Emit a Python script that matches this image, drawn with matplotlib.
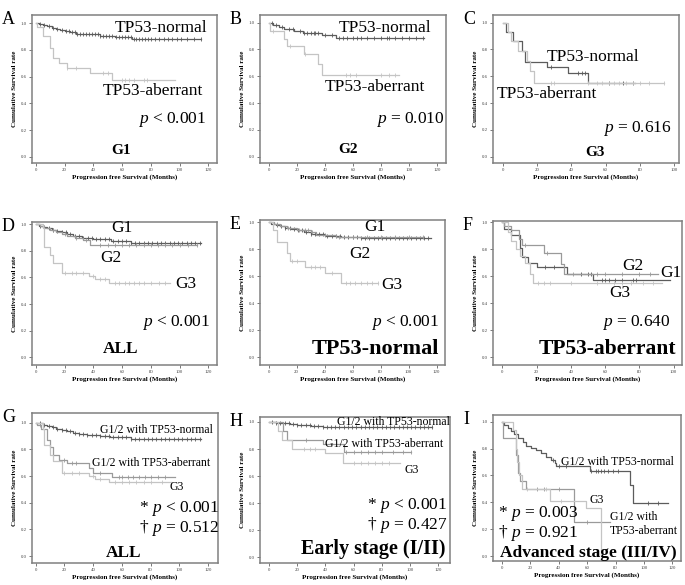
import numpy as np
import matplotlib
matplotlib.use("Agg")
import matplotlib.pyplot as plt

plt.rcParams['font.family'] = ['Liberation Serif', 'DejaVu Serif']
plt.rcParams['mathtext.fontset'] = 'custom'
plt.rcParams['mathtext.rm'] = 'Liberation Serif'
plt.rcParams['mathtext.it'] = 'Liberation Serif:italic'

W, H = 685, 585
DARK, MID, LIGHT = '#5c5c5c', '#9a9a9a', '#c4c4c4'

# ---- Kaplan-Meier curves: step times, survival, last follow-up, censor times
# A: G1
a_norm_t = [0, 2, 5, 8, 11, 14, 17, 20, 24, 28, 35, 45, 55, 67]
a_norm_s = [1, .995, .985, .975, .965, .955, .945, .94, .93, .92, .915, .905, .895, .88]
a_norm_end = 115
a_norm_c = [3, 6, 9, 12, 15, 18, 21, 23, 25, 27, 29, 31, 33, 35, 37, 39, 41, 43, 45, 47, 49, 51, 53, 56, 58,
            60, 62, 64, 66, 68, 70, 72, 74, 76, 78, 80, 83, 86, 89, 92, 95, 98, 101, 105, 110, 115]
a_ab_t = [0, 1, 5, 10, 12, 16, 22, 38, 53]
a_ab_s = [1, .97, .90, .81, .74, .70, .667, .625, .575]
a_ab_end = 97
a_ab_c = [22, 28, 47, 50, 60, 62, 65, 68, 75, 77]

# B: G2
b_norm_t = [0, 3, 7, 11, 18, 24, 38, 48]
b_norm_s = [1, .985, .97, .955, .94, .925, .91, .888]
b_norm_end = 111
b_norm_c = [2, 5, 9, 14, 17, 22, 25, 27, 30, 32, 33, 35, 40, 45, 50, 53, 56, 60, 63, 66, 70, 75, 80,
            84, 86, 90, 95, 100, 105, 110]
b_ab_t = [0, 1, 11, 13, 25, 35, 38]
b_ab_s = [1, .94, .88, .825, .765, .69, .61]
b_ab_end = 93
b_ab_c = [3, 15, 26, 55, 58, 62, 80, 86, 90]

# C: G3
c_norm_t = [0, 2, 6, 11, 13, 26, 38, 50]
c_norm_s = [1, .93, .86, .79, .71, .67, .625, .55]
c_norm_end = 77
c_norm_c = [28, 44, 46, 48, 62, 70, 76]
c_ab_t = [0, 3, 5, 9, 14, 16, 18]
c_ab_s = [1, .93, .865, .785, .715, .64, .55]
c_ab_end = 94
c_ab_c = [28, 30, 50, 55, 58, 62, 65, 68, 72, 76, 80, 85, 94]

# D: ALL by grade
d_g1_t = [0, 2, 5, 8, 11, 14, 18, 22, 26, 32, 40, 52, 66]
d_g1_s = [1, .99, .98, .97, .96, .95, .94, .93, .915, .90, .89, .875, .86]
d_g1_end = 115
d_g1_c = list(range(3, 116, 3))
d_g2_t = [0, 3, 6, 10, 14, 18, 22, 27, 33, 38]
d_g2_s = [1, .985, .97, .955, .94, .925, .91, .895, .88, .845]
d_g2_end = 112
d_g2_c = [5, 12, 20, 28, 35, 45, 50, 55, 60, 65, 70, 75, 80, 85, 90, 95, 100, 106, 112]
d_g3_t = [0, 5, 6, 10, 12, 18, 37, 41, 51]
d_g3_s = [1, .97, .83, .77, .71, .63, .61, .59, .555]
d_g3_end = 93
d_g3_c = [20, 25, 28, 33, 40, 45, 48, 55, 58, 62, 65, 68, 72, 75, 80, 86, 90]

# E: TP53-normal by grade
e_g1_t = [0, 2, 5, 8, 12, 16, 20, 25, 30, 40, 52, 66]
e_g1_s = [1, .99, .98, .97, .96, .95, .94, .925, .91, .90, .89, .88]
e_g1_end = 116
e_g1_c = list(range(3, 117, 3))
e_g2_t = [0, 4, 8, 13, 20, 30, 34, 48]
e_g2_s = [1, .985, .97, .955, .94, .925, .905, .89]
e_g2_end = 110
e_g2_c = [6, 14, 22, 26, 28, 31, 40, 50, 60, 70, 80, 90, 100, 110]
e_g3_t = [0, 3, 6, 13, 15, 26, 40, 52]
e_g3_s = [1, .945, .857, .77, .71, .672, .622, .548]
e_g3_end = 78
e_g3_c = [17, 20, 30, 33, 37, 45, 55, 58, 62, 66, 70, 74, 78]

# F: TP53-aberrant by grade
f_g1_t = [0, 1, 5, 10, 11.5, 15, 20, 37.6, 53]
f_g1_s = [1, .95, .905, .81, .74, .70, .667, .62, .573]
f_g1_end = 98
f_g1_c = [10, 25, 30, 46, 50, 52, 58, 60, 62, 66, 70, 76, 78]
f_g2_t = [0, 1, 5, 9.4, 11.3, 24, 34, 36]
f_g2_s = [1, .97, .94, .88, .83, .77, .69, .615]
f_g2_end = 91
f_g2_c = [3, 13, 26, 41, 55, 60, 70, 80, 86]
f_g3_t = [0, 3, 5, 8, 10, 13, 16, 18]
f_g3_s = [1, .93, .86, .80, .75, .70, .62, .55]
f_g3_end = 93
f_g3_c = [21, 24, 28, 40, 55, 65, 70, 75, 82, 88]

# G: ALL, G1/2 by TP53 and G3
g_norm_t = [0, 2, 5, 8, 11, 14, 18, 22, 26, 30, 36, 45, 52, 66]
g_norm_s = [1, .995, .985, .975, .965, .955, .945, .935, .925, .915, .905, .90, .89, .88]
g_norm_end = 115
g_norm_c = list(range(3, 116, 3))
g_ab_t = [0, 1, 4, 8, 10, 12, 16, 22, 37, 40, 53]
g_ab_s = [1, .98, .95, .87, .82, .76, .72, .70, .66, .625, .59]
g_ab_end = 97
g_ab_c = [3, 20, 25, 28, 45, 58, 60, 64, 68, 72, 76, 80, 85, 90]
g_g3_t = [0, 5, 6, 10, 12, 18, 37, 41, 51]
g_g3_s = [1, .95, .83, .76, .71, .625, .60, .58, .555]
g_g3_end = 94
g_g3_c = [20, 25, 30, 40, 45, 55, 60, 65, 70, 75, 80, 88]

# H: early stage
h_norm_t = [0, 5, 10, 15, 20, 25, 30, 38]
h_norm_s = [1, .995, .99, .985, .98, .975, .97, .963]
h_norm_end = 116
h_norm_c = list(range(2, 117, 3))
h_ab_t = [0, 10, 12.5, 38.5, 53]
h_ab_s = [1, .93, .87, .84, .78]
h_ab_end = 101
h_ab_c = [26, 55, 60, 65, 70, 75, 80, 88, 95, 101]
h_g3_t = [0, 6.5, 9, 16, 39.5, 52.5]
h_g3_s = [1, .93, .87, .80, .77, .70]
h_g3_end = 93
h_g3_c = [25, 29, 33, 60, 65, 70, 75, 80, 85]

# I: advanced stage
i_norm_t = [0, 1.9, 4.2, 6.6, 8.9, 11.3, 14.8, 17.2, 20.7, 24.2, 27.8, 31.3, 34.8, 37.2, 38.4, 61.9, 90.1, 92]
i_norm_s = [1, .978, .955, .928, .91, .878, .846, .82, .806, .79, .767, .74, .717, .692, .667, .63, .53, .395]
i_norm_end = 117
i_norm_c = [36, 40, 45, 63, 66, 68, 70, 72, 75, 78, 82, 103, 110]
i_ab_t = [0, 1, 10, 11.5, 13, 17, 51]
i_ab_s = [1, .88, .75, .62, .56, .50, .25]
i_ab_end = 76
i_ab_c = [25, 30, 40, 60]
i_g3_t = [0, 8, 10, 11, 12, 14, 34, 59.5, 69.5]
i_g3_s = [1, .94, .80, .70, .60, .50, .41, .357, 0]
i_g3_end = 69.5
i_g3_c = [18, 31, 42]

fig = plt.figure(figsize=(W / 100, H / 100), dpi=100)


def km(ax, t, s, end, cens, color):
    t = np.asarray(t, float)
    s = np.asarray(s, float)
    ax.step(np.append(t, end), np.append(s, s[-1]), where='post', color=color, lw=0.9)
    c = np.asarray(cens, float)
    c = c[c <= end]
    cy = s[np.searchsorted(t, c, side='right') - 1]
    ax.plot(c, cy, ls='none', marker='|', ms=3, mew=0.6, color=color)


def panel(box, xlim, ylim, xticks, letter, curves, texts):
    l, t, r, b = box
    ax = fig.add_axes([l / W, 1 - b / H, (r - l) / W, (b - t) / H])
    for c in curves:
        km(ax, *c)
    ax.set_xlim(*xlim)
    ax.set_ylim(*ylim)
    ax.set_xticks(xticks)
    ax.set_yticks([0, .2, .4, .6, .8, 1.0])
    ax.set_yticklabels(['0.0', '0.2', '0.4', '0.6', '0.8', '1.0'])
    ax.tick_params(labelsize=3.5, length=2, width=0.5, pad=1.5, colors='#444444')
    for sp in ax.spines.values():
        sp.set_color('#808080')
        sp.set_linewidth(1.1)
    ax.set_xlabel('Progression free Survival (Months)', fontsize=5, fontweight='bold', labelpad=2)
    ax.set_ylabel('Cumulative Survival rate', fontsize=5, fontweight='bold', labelpad=3)
    for x, y, txt, size, bold in texts:
        ax.text(x, y, txt, fontsize=size, fontweight='bold' if bold else 'normal',
                ha='left', va='center', color='black')
    fig.text((l - 30) / W, 1 - (t - 4) / H, letter, fontsize=13, va='top', ha='left')
    return ax


x120 = [0, 20, 40, 60, 80, 100, 120]
x100 = [0, 20, 40, 60, 80, 100]

panel((32, 15, 217, 163), (-2.6, 126), (-0.045, 1.06), x120, 'A',
      [(a_norm_t, a_norm_s, a_norm_end, a_norm_c, DARK), (a_ab_t, a_ab_s, a_ab_end, a_ab_c, LIGHT)],
      [(55, .96, 'TP53-normal', 12.5, False), (46.6, .49, 'TP53-aberrant', 12.5, False),
       (71.3, .278, '$p$ < 0.001', 12.5, False), (52.3, .05, 'G1', 11, True)])
panel((260, 15, 446, 163), (-6.4, 126.4), (-0.047, 1.057), x120, 'B',
      [(b_norm_t, b_norm_s, b_norm_end, b_norm_c, DARK), (b_ab_t, b_ab_s, b_ab_end, b_ab_c, LIGHT)],
      [(50, .958, 'TP53-normal', 12.5, False), (39.8, .517, 'TP53-aberrant', 12.5, False),
       (76.2, .274, '$p$ = 0.010', 12.5, False), (49.3, .057, 'G2', 11, True)])
panel((493, 15, 679, 163), (-5.6, 102.7), (-0.047, 1.057), x100, 'C',
      [(c_norm_t, c_norm_s, c_norm_end, c_norm_c, DARK), (c_ab_t, c_ab_s, c_ab_end, c_ab_c, LIGHT)],
      [(25.6, .743, 'TP53-normal', 12.5, False), (-3.5, .469, 'TP53-aberrant', 12.5, False),
       (58.3, .212, '$p$ = 0.616', 12.5, False), (48, .03, 'G3', 11, True)])

panel((32, 222, 217, 365), (-2.6, 126), (-0.058, 1.017), x120, 'D',
      [(d_g1_t, d_g1_s, d_g1_end, d_g1_c, DARK), (d_g2_t, d_g2_s, d_g2_end, d_g2_c, MID),
       (d_g3_t, d_g3_s, d_g3_end, d_g3_c, LIGHT)],
      [(52.4, .97, 'G1', 12.5, False), (44.7, .749, 'G2', 12.5, False), (96.8, .549, 'G3', 12.5, False),
       (73.7, .26, '$p$ < 0.001', 12.5, False), (46.6, .063, 'ALL', 12.5, True)])
panel((260, 220, 445, 365), (-6.2, 126), (-0.057, 1.017), x120, 'E',
      [(e_g1_t, e_g1_s, e_g1_end, e_g1_c, DARK), (e_g2_t, e_g2_s, e_g2_end, e_g2_c, MID),
       (e_g3_t, e_g3_s, e_g3_end, e_g3_c, LIGHT)],
      [(68.3, .968, 'G1', 12.5, False), (57.3, .763, 'G2', 12.5, False), (80.2, .536, 'G3', 12.5, False),
       (73, .257, '$p$ < 0.001', 12.5, False), (30.5, .062, 'TP53-normal', 16, True)])
panel((493, 221, 682, 365), (-5.5, 104.9), (-0.057, 1.01), x100, 'F',
      [(f_g1_t, f_g1_s, f_g1_end, f_g1_c, DARK), (f_g2_t, f_g2_s, f_g2_end, f_g2_c, MID),
       (f_g3_t, f_g3_s, f_g3_end, f_g3_c, LIGHT)],
      [(69.8, .677, 'G2', 12.5, False), (92.2, .622, 'G1', 12.5, False), (62.6, .474, 'G3', 12.5, False),
       (58.1, .257, '$p$ = 0.640', 12.5, False), (21, .062, 'TP53-aberrant', 15.5, True)])

panel((32, 413, 218, 563), (-2.6, 126.8), (-0.052, 1.073), x120, 'G',
      [(g_norm_t, g_norm_s, g_norm_end, g_norm_c, DARK), (g_ab_t, g_ab_s, g_ab_end, g_ab_c, MID),
       (g_g3_t, g_g3_s, g_g3_end, g_g3_c, LIGHT)],
      [(44.7, .945, 'G1/2 with TP53-normal', 8.5, False), (38.9, .695, 'G1/2 with TP53-aberrant', 8.5, False),
       (92.9, .515, 'G3', 8.5, False), (72, .358, '* $p$ < 0.001', 12.5, False),
       (72, .208, '† $p$ = 0.512', 12.5, False), (48.9, .02, 'ALL', 12.5, True)])
panel((260, 417, 450, 563), (-6.4, 128.5), (-0.044, 1.037), x120, 'H',
      [(h_norm_t, h_norm_s, h_norm_end, h_norm_c, DARK), (h_ab_t, h_ab_s, h_ab_end, h_ab_c, MID),
       (h_g3_t, h_g3_s, h_g3_end, h_g3_c, LIGHT)],
      [(48.3, 1.0, 'G1/2 with TP53-normal', 8.5, False), (40, .835, 'G1/2 with TP53-aberrant', 8.5, False),
       (96.2, .642, 'G3', 8.5, False), (69.9, .383, '* $p$ < 0.001', 12.5, False),
       (69.9, .235, '† $p$ = 0.427', 12.5, False), (22.7, .062, 'Early stage (I/II)', 14.5, True)])
panel((493, 415, 681, 561), (-6.1, 126), (-0.037, 1.05), x120, 'I',
      [(i_norm_t, i_norm_s, i_norm_end, i_norm_c, DARK), (i_ab_t, i_ab_s, i_ab_end, i_ab_c, MID),
       (i_g3_t, i_g3_s, i_g3_end, i_g3_c, LIGHT)],
      [(41.7, .702, 'G1/2 with TP53-normal', 8.5, False), (62, .417, 'G3', 8.5, False),
       (76.1, .237, 'G1/2 with\nTP53-aberrant', 8.5, False), (-2.3, .318, '* $p$ = 0.003', 12.5, False),
       (-2.3, .169, '† $p$ = 0.921', 12.5, False), (-1.2, .02, 'Advanced stage (III/IV)', 12.5, True)])

fig.savefig('out.png', dpi=100)
